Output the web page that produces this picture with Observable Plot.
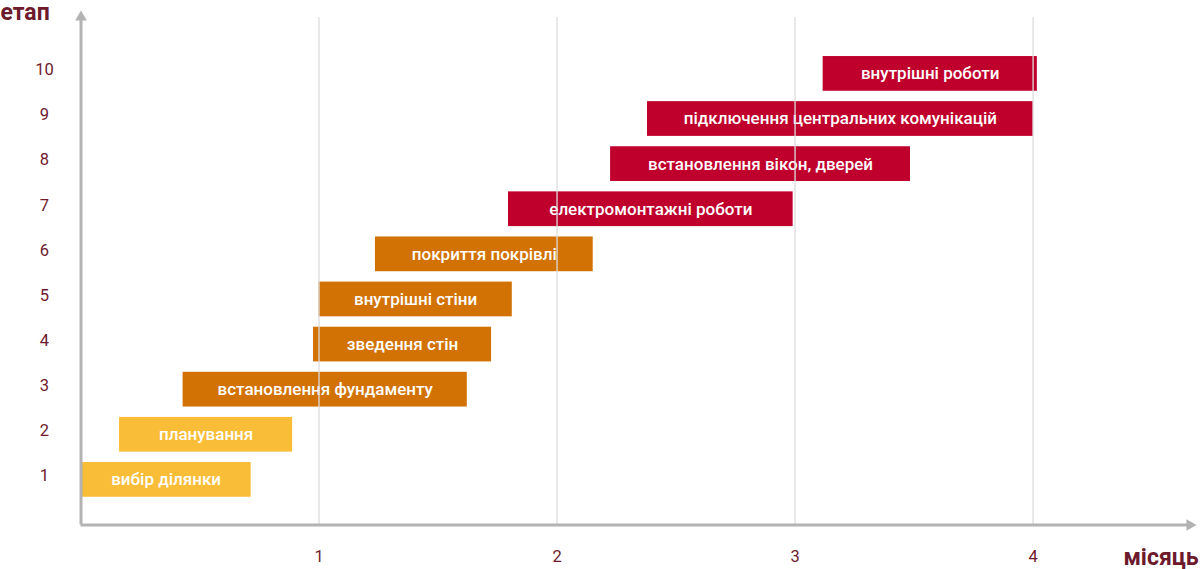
<!DOCTYPE html>
<html><head><meta charset="utf-8">
<script src="https://cdn.jsdelivr.net/npm/d3@7"></script>
<script src="https://cdn.jsdelivr.net/npm/@observablehq/plot@0.6"></script>
<style>html,body{margin:0;padding:0;background:#fff;font-family:Roboto,sans-serif}</style>
</head><body><div id="chart"></div>
<script>
const stages = [1, 2, 3, 4, 5, 6, 7, 8, 9, 10];
const labels = [
  "вибір ділянки",
  "планування",
  "встановлення фундаменту",
  "зведення стін",
  "внутрішні стіни",
  "покриття покрівлі",
  "електромонтажні роботи",
  "встановлення вікон, дверей",
  "підключення центральних комунікацій",
  "внутрішні роботи"
];
const starts = [0, 0.162, 0.429, 0.977, 1.0, 1.237, 1.796, 2.225, 2.38, 3.118];
const ends   = [0.715, 0.889, 1.623, 1.725, 1.812, 2.152, 2.992, 3.485, 4.001, 4.018];
const phases = ["p1","p1","p2","p2","p2","p2","p3","p3","p3","p3"];
const phaseNames = ["p1", "p2", "p3"];
const phaseColors = ["#F9BD38", "#D27204", "#C0002C"];
const xTicks = [1, 2, 3, 4];
const xTitle = "місяць";
const yTitle = "етап";

const data = stages.map((s, i) => ({stage: s, label: labels[i], start: starts[i], end: ends[i], phase: phases[i]}));

const xMax = 4.695, yMax = 11.45, half = 0.385;
const maroon = "#6e1a2d", axisGray = "#b3b3b3", gridGray = "#dcdcdc";

const chart = Plot.plot({
  width: 1200, height: 569, margin: 0,
  style: {fontFamily: "Roboto, sans-serif", background: "#fff", overflow: "visible"},
  x: {domain: [0, xMax], range: [80.5, 1198], axis: null},
  y: {domain: [0, yMax], range: [524.5, 8], axis: null},
  color: {domain: phaseNames, range: phaseColors},
  marks: [
    Plot.rect(data, {x1: "start", x2: "end", y1: d => d.stage - half, y2: d => d.stage + half, fill: "phase"}),
    Plot.text(data, {x: d => (d.start + d.end) / 2, y: "stage", text: "label", fill: "white", fontSize: 17, fontWeight: 500}),
    Plot.ruleX(xTicks, {x: d => d, y1: 0, y2: 11.25, stroke: gridGray, strokeWidth: 1.3}),
    Plot.ruleY([0], {x1: 0, x2: xMax - 0.04, stroke: axisGray, strokeWidth: 3}),
    Plot.ruleX([0], {y1: 0, y2: yMax - 0.2, stroke: axisGray, strokeWidth: 3}),
    Plot.dot([0], {x: 0, y: yMax, symbol: "triangle2", r: 5.6, fill: axisGray, dy: 8.66}),
    Plot.dot([0], {x: xMax, y: 0, symbol: "triangle2", r: 5.6, fill: axisGray, rotate: 90, dx: -8.66}),
    Plot.text(stages, {x: 0, y: d => d, text: d => String(d), dx: -36.5, dy: -4, fill: maroon, fontSize: 16.5}),
    Plot.text(xTicks, {x: d => d, y: 0, text: d => String(d), dy: 32, fill: maroon, fontSize: 16.5}),
    Plot.text([yTitle], {x: 0, y: yMax, text: d => d, dx: -80.5, dy: 4.5, textAnchor: "start", fontWeight: 700, fontSize: 23, fill: maroon}),
    Plot.text([xTitle], {x: xMax, y: 0, text: d => d, dy: 32.5, textAnchor: "end", fontWeight: 700, fontSize: 23, fill: maroon})
  ]
});
document.getElementById("chart").appendChild(chart);
</script>
</body></html>
